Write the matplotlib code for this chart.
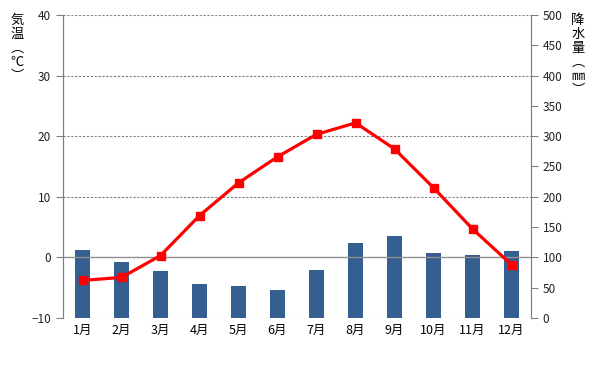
import matplotlib.pyplot as plt
import numpy as np

plt.rcParams['font.family'] = ['Noto Sans CJK JP', 'DejaVu Sans']

# monthly climate data
months = ['1月', '2月', '3月', '4月', '5月', '6月', '7月', '8月', '9月', '10月', '11月', '12月']
temperature = [-3.8, -3.3, 0.3, 6.9, 12.3, 16.6, 20.3, 22.2, 17.9, 11.5, 4.7, -1.2]
precipitation = [112, 92, 78, 56, 53, 46, 80, 124, 135, 107, 104, 110]

fig = plt.figure(figsize=(5.98, 3.68), dpi=100)
ax = fig.add_axes([63 / 598, 50 / 368, 468 / 598, 303 / 368])
ax2 = ax.twinx()

x = np.arange(len(months))

# precipitation bars on the right axis
ax2.bar(x, precipitation, width=0.38, color='#355e91', zorder=2)
ax2.set_ylim(0, 500)
ax2.set_yticks(np.arange(0, 501, 50))

# temperature line on the left axis (drawn above the bars)
ax.set_zorder(ax2.get_zorder() + 1)
ax.patch.set_visible(False)
ax.plot(x, temperature, color='#ff0000', linewidth=2.3, marker='s', markersize=5.5, zorder=3)
ax.set_ylim(-10, 40)
ax.set_yticks(np.arange(-10, 41, 10))
ax.set_xlim(-0.5, len(months) - 0.5)
ax.set_xticks(x)
ax.set_xticklabels(months)

# grid lines
for v in [-10, 10, 20, 30, 40]:
    ax.axhline(v, color='#808080', linestyle=(0, (2, 1.5)), linewidth=0.8, zorder=0)
ax.axhline(0, color='#909090', linewidth=1.0, zorder=0)

for a in (ax, ax2):
    for s in ['top', 'bottom']:
        a.spines[s].set_visible(False)
    a.spines['left'].set_color('#808080')
    a.spines['right'].set_color('#808080')
    a.tick_params(axis='y', colors='#808080', labelcolor='#222222', labelsize=8.5, length=5, width=0.8)
ax.tick_params(axis='x', length=0, labelsize=9, pad=4)

# vertical Japanese axis titles
fig.text(17 / 598, 1 - 14 / 368, '気\n温\n︵\n℃\n︶', ha='center', va='top', fontsize=9.5, linespacing=1.1)
fig.text(578 / 598, 1 - 14 / 368, '降\n水\n量\n︵\n㎜\n︶', ha='center', va='top', fontsize=9.5, linespacing=1.1)

fig.savefig('out.png', dpi=100)
